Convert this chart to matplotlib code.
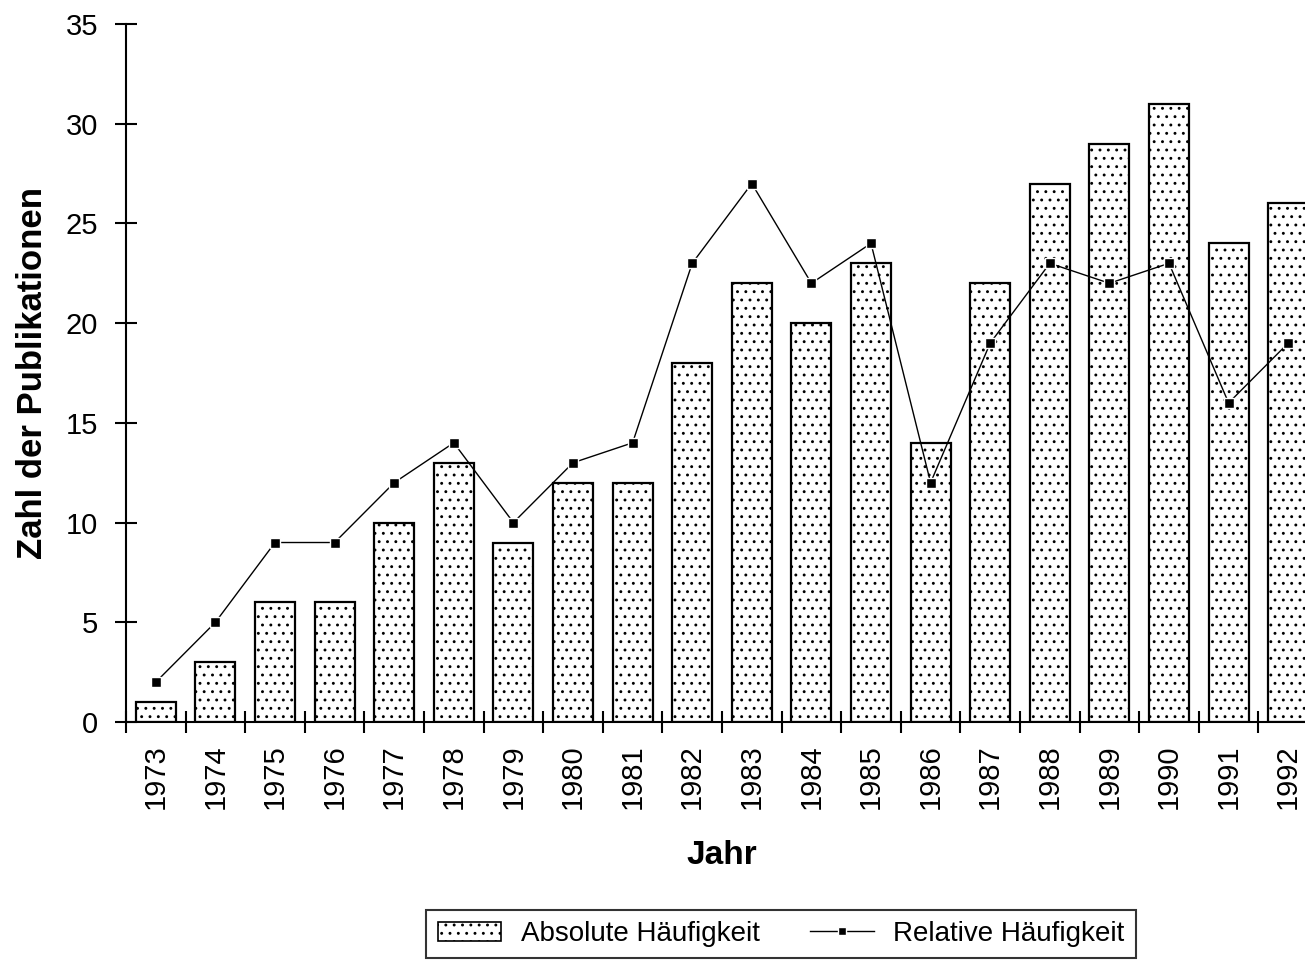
import numpy as np
import matplotlib
matplotlib.use("Agg")
import matplotlib.pyplot as plt
from matplotlib.patches import Patch
from matplotlib.lines import Line2D

plt.rcParams['font.family'] = ['Liberation Sans', 'DejaVu Sans']
plt.rcParams['hatch.linewidth'] = 0.9

years = [str(y) for y in range(1973, 1993)]
absolute = [1, 3, 6, 6, 10, 13, 9, 12, 12, 18, 22, 20, 23, 14, 22, 27, 29, 31, 24, 26]
relative = [2, 5, 9, 9, 12, 14, 10, 13, 14, 23, 27, 22, 24, 12, 19, 23, 22, 23, 16, 19]

fig = plt.figure(figsize=(13.05, 9.61), dpi=100)
ax = fig.add_axes([126 / 1305, 239 / 961, 1192 / 1305, 698 / 961])

x = np.arange(len(years))
ax.bar(x, absolute, width=0.67, color='white', edgecolor='black',
       linewidth=1.6, hatch='..', zorder=2)
ax.plot(x, relative, color='black', linewidth=1.0, marker='s', markersize=7.5,
        markerfacecolor='black', markeredgecolor='white', markeredgewidth=1.0,
        zorder=3)

ax.set_xlim(-0.5, len(years) - 0.5)
ax.set_ylim(0, 35)
ax.set_yticks(range(0, 36, 5))
ax.set_xticks(x)
ax.set_xticklabels(years, rotation=90)
ax.set_xticks(np.arange(-0.5, len(years), 1.0), minor=True)
ax.tick_params(axis='x', which='major', length=0, pad=16, labelsize=21)
ax.tick_params(axis='x', which='minor', direction='inout', length=16, width=1.5)
ax.tick_params(axis='y', direction='inout', length=16, width=1.5, labelsize=21, pad=12)

for side in ['top', 'right']:
    ax.spines[side].set_visible(False)
for side in ['left', 'bottom']:
    ax.spines[side].set_linewidth(1.5)

ax.set_ylabel('Zahl der Publikationen', fontsize=25, fontweight='bold', labelpad=12)
ax.set_xlabel('Jahr', fontsize=24, fontweight='bold', labelpad=22)

handles = [
    Patch(facecolor='white', edgecolor='black', hatch='..', linewidth=1.2),
    Line2D([0], [0], color='black', linewidth=1.0, marker='s', markersize=6,
           markerfacecolor='black', markeredgecolor='white'),
]
leg = fig.legend(handles, ['Absolute Häufigkeit', 'Relative Häufigkeit'],
                 loc='center', bbox_to_anchor=(781 / 1305, 27 / 961),
                 ncol=2, fontsize=20, frameon=True, fancybox=False,
                 edgecolor='black', handlelength=2.3, handletextpad=0.7,
                 columnspacing=1.8, borderpad=0.4)
leg.get_frame().set_linewidth(1.5)

fig.savefig('out.png', dpi=100)
